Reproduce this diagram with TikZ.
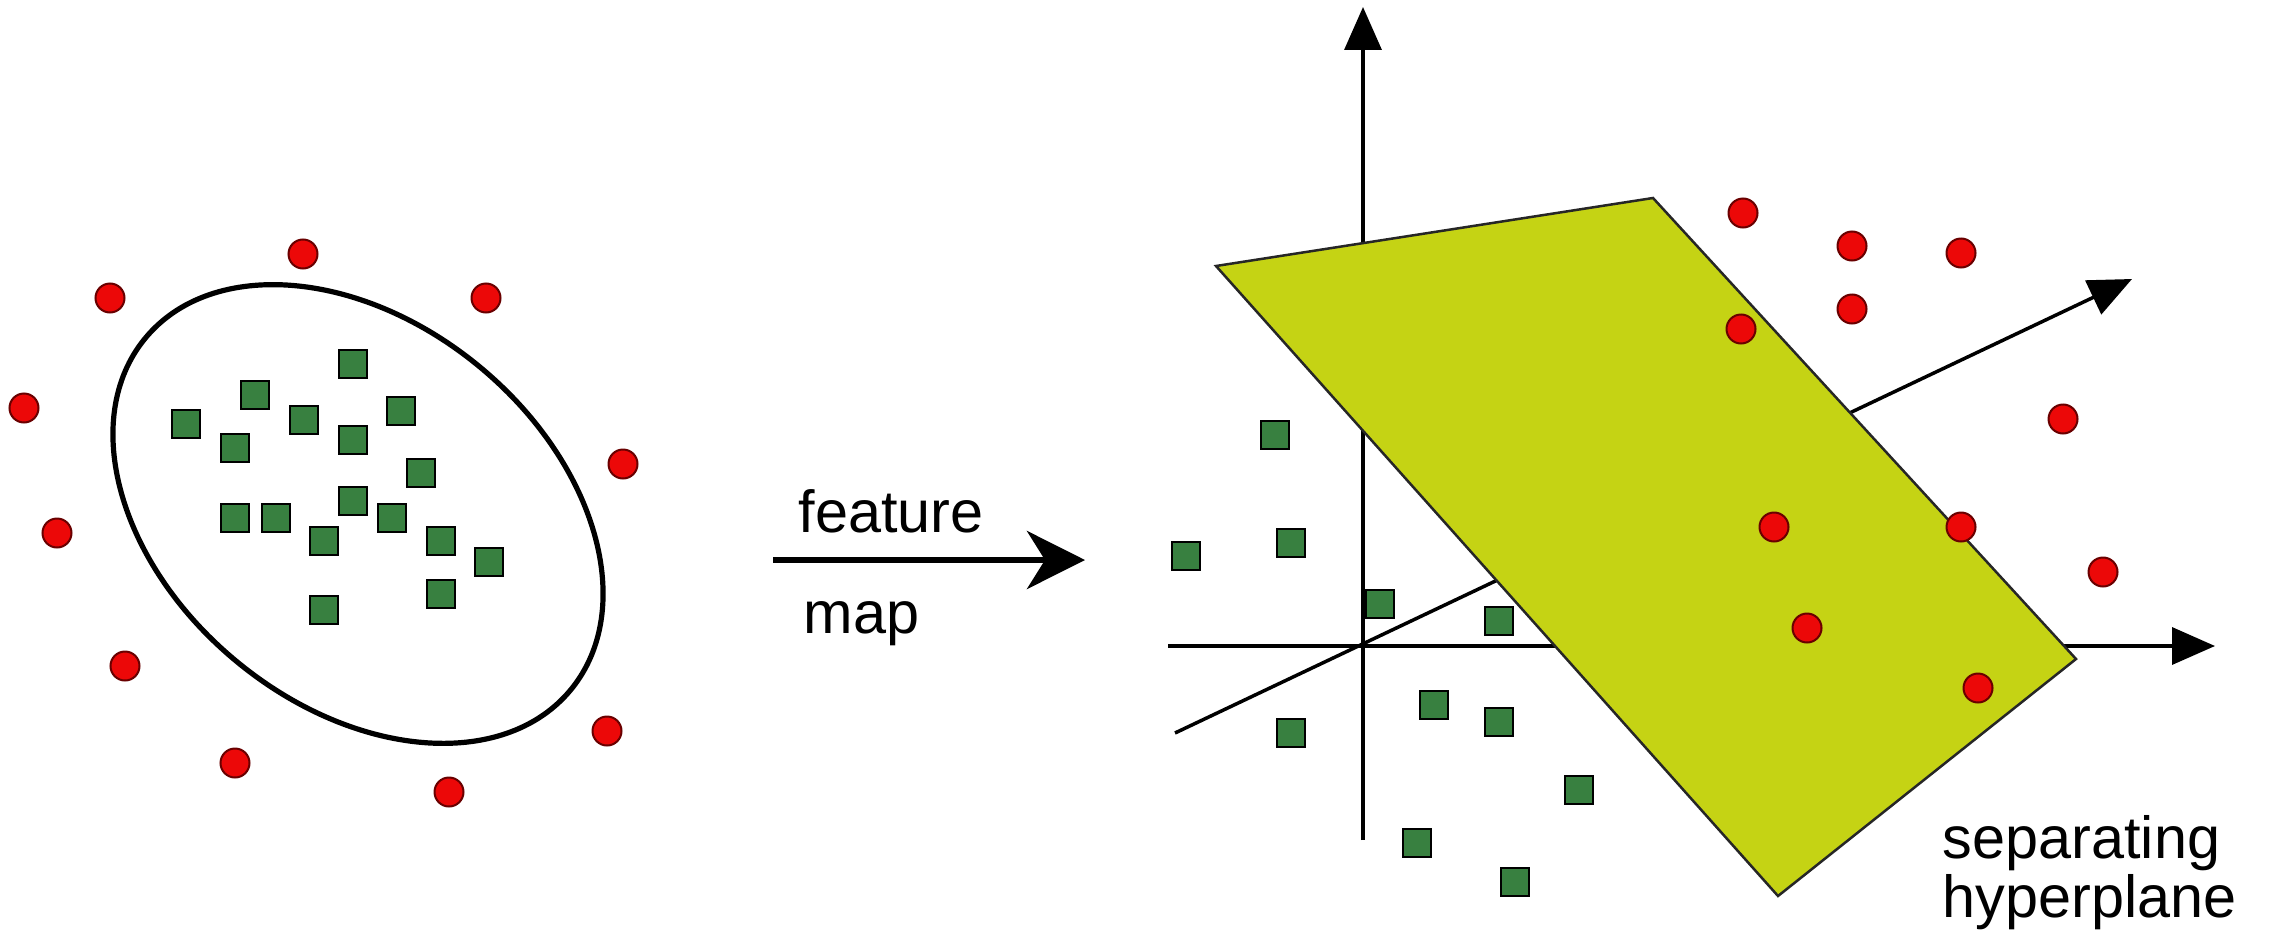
\documentclass[tikz,border=0pt]{standalone}
\usepackage{fontspec}
\setmainfont{Liberation Sans}
\usetikzlibrary{arrows.meta}

\definecolor{dotred}{RGB}{236,8,8}
\definecolor{dotedge}{RGB}{105,0,0}
\definecolor{sqgreen}{RGB}{56,128,64}
\definecolor{planegreen}{RGB}{197,211,20}

\tikzset{
  reddot/.style={circle, draw=dotedge, fill=dotred, line width=0.02cm, minimum size=0.29cm, inner sep=0pt},
  greensq/.style={rectangle, draw=black, fill=sqgreen, line width=0.025cm, minimum size=0.28cm, inner sep=0pt},
  axis/.style={line width=0.035cm, -{Triangle[length=0.43cm, width=0.37cm]}},
  label/.style={font=\fontsize{16.9}{17}\selectfont, inner sep=0pt, anchor=base west},
}

\begin{document}
\begin{tikzpicture}
\useasboundingbox (0,0) rectangle (22.69,9.43);

% input space
\draw[line width=0.052cm] (3.58,4.29) ellipse [x radius=2.76, y radius=1.91, rotate=-39.6];
\foreach \x/\y [count=\i] in {3.03/6.89, 1.10/6.45, 4.86/6.45, 0.24/5.35, 6.23/4.79,
    0.57/4.10, 1.25/2.77, 6.07/2.12, 2.35/1.80, 4.49/1.51} {
    \node[reddot] (lred\i) at (\x,\y) {};
}
\foreach \x/\y [count=\i] in {3.53/5.79, 2.55/5.48, 1.86/5.19, 3.04/5.23, 4.01/5.32,
    2.35/4.95, 3.53/5.03, 4.21/4.70, 2.35/4.25, 2.76/4.25, 3.53/4.42, 3.92/4.25,
    3.24/4.02, 4.41/4.02, 4.89/3.81, 4.41/3.49, 3.24/3.33} {
    \node[greensq] (lgreen\i) at (\x,\y) {};
}

% feature map arrow
\coordinate (mapstart) at (7.73,3.83);
\coordinate (mapend) at (10.85,3.83);
\draw[line width=0.06cm, -{Stealth[length=0.58cm, width=0.58cm, inset=0.18cm]}] (mapstart) -- (mapend);
\node[label] (feat) at (7.98,4.11) {feature};
\node[label] (map) at (8.03,3.10) {map};

% feature space
\coordinate (O) at (13.63,2.97);
\coordinate (xstart) at (11.68,2.97);
\coordinate (xend) at (22.15,2.97);
\coordinate (ystart) at (13.63,1.03);
\coordinate (yend) at (13.63,9.36);
\coordinate (zstart) at (11.75,2.10);
\coordinate (zend) at (21.32,6.64);
\draw[axis] (zstart) -- (zend);
\draw[axis] (xstart) -- (xend);
\draw[axis] (ystart) -- (yend);

\coordinate (P1) at (12.16,6.77);
\coordinate (P2) at (16.53,7.45);
\coordinate (P3) at (20.76,2.84);
\coordinate (P4) at (17.78,0.47);
\draw[fill=planegreen, draw=black!85, line width=0.025cm] (P1) -- (P2) -- (P3) -- (P4) -- cycle;

\foreach \x/\y [count=\i] in {17.43/7.30, 18.52/6.97, 19.61/6.90, 18.52/6.34, 17.41/6.14,
    20.63/5.24, 17.74/4.16, 19.61/4.16, 21.03/3.71, 18.07/3.15, 19.78/2.55} {
    \node[reddot] (rred\i) at (\x,\y) {};
}
\foreach \x/\y [count=\i] in {12.75/5.08, 11.86/3.87, 12.91/4.00, 13.80/3.39, 14.99/3.22,
    14.34/2.38, 14.99/2.21, 12.91/2.10, 15.79/1.53, 14.17/1.00, 15.15/0.61} {
    \node[greensq] (rgreen\i) at (\x,\y) {};
}

\node[label] (sep) at (19.42,0.85) {separating};
\node[label] (hyp) at (19.42,0.26) {hyperplane};
\end{tikzpicture}
\end{document}
